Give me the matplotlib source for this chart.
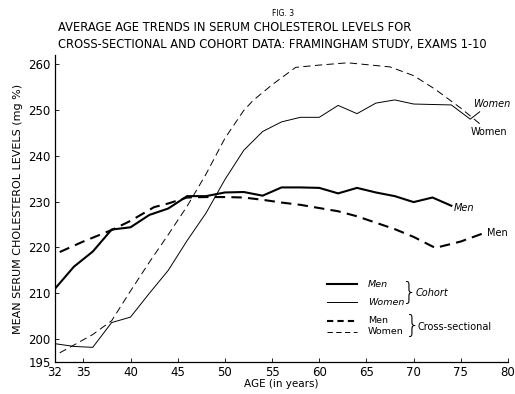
import matplotlib
matplotlib.use('Agg')
import matplotlib.pyplot as plt

# cohort data
cohort_men_age = [32, 34, 36, 38, 40, 42, 44, 46, 48, 50, 52, 54, 56, 58, 60, 62, 64, 66, 68, 70, 72, 74]
cohort_men = [211, 215.8, 219.1, 223.9, 224.4, 227.1, 228.5, 231.2, 231.2, 232, 232.1, 231.3, 233.1,
              233.1, 233, 231.8, 233, 232, 231.2, 229.9, 230.9, 229.1]

cohort_women_age = [32, 34, 36, 38, 40, 42, 44, 46, 48, 50, 52, 54, 56, 58, 60, 62, 64, 66, 68, 70,
                    72, 74, 76, 77]
cohort_women = [199, 198.4, 198.2, 203.6, 204.8, 210, 215, 221.5, 227.5, 234.8, 241.2, 245.3, 247.4,
                248.4, 248.4, 251, 249.2, 251.5, 252.2, 251.3, 251.2, 251.1, 248, 249.6]

# cross-sectional data
cross_men_age = [32.5, 35, 38, 40, 42.5, 44, 46, 48, 50, 52, 54, 56, 58, 60, 62, 64, 66, 68, 70,
                 72.3, 75, 77.4]
cross_men = [219, 221.3, 223.8, 225.8, 228.8, 229.6, 230.9, 231, 231, 230.9, 230.4, 229.8, 229.3,
             228.6, 227.9, 226.8, 225.4, 224, 222.3, 219.9, 221.3, 223.1]

cross_women_age = [32.5, 34, 36, 38, 40, 42, 44, 46, 48, 50, 52, 53, 55, 57.5, 60, 63, 65, 67.5,
                   70, 72.3, 75, 77.3]
cross_women = [197, 198.7, 201, 204, 210.5, 216.8, 222.8, 229, 236, 243.8, 249.9, 252.1, 255.5,
               259.3, 259.8, 260.3, 259.9, 259.4, 257.5, 254.5, 250.4, 246.5]

x_ticks = [32, 35, 40, 45, 50, 55, 60, 65, 70, 75, 80]
y_ticks = [195, 200, 210, 220, 230, 240, 250, 260]

fig = plt.figure(figsize=(5.15, 3.94), dpi=100)
ax = fig.add_axes([0.1068, 0.0812, 0.8796, 0.7792])

ax.plot(cohort_men_age, cohort_men, color='black', lw=1.5, solid_joinstyle='miter')
ax.plot(cohort_women_age, cohort_women, color='black', lw=0.7)
ax.plot(cross_men_age, cross_men, color='black', lw=1.5, dashes=(5, 3))
ax.plot(cross_women_age, cross_women, color='black', lw=0.7, dashes=(7.5, 4.5))

# line end labels
ax.text(cohort_women_age[-1] - 0.7, 251.3, 'Women', fontsize=7, style='italic', va='center', ha='left')
ax.text(cross_women_age[-1] - 1.3, 245.2, 'Women', fontsize=7, va='center', ha='left')
ax.text(cohort_men_age[-1] + 0.2, 228.7, 'Men', fontsize=7, style='italic', va='center', ha='left')
ax.text(cross_men_age[-1] + 0.4, 223.1, 'Men', fontsize=7, va='center', ha='left')

# hand made legend with braces
tr = ax.transAxes
ax.plot([0.600, 0.667], [0.254, 0.254], color='black', lw=1.5, transform=tr)
ax.plot([0.600, 0.667], [0.195, 0.195], color='black', lw=0.7, transform=tr)
ax.plot([0.600, 0.667], [0.134, 0.134], color='black', lw=1.5, dashes=(3, 2), transform=tr)
ax.plot([0.600, 0.667], [0.098, 0.098], color='black', lw=0.7, dashes=(5.5, 3.5), transform=tr)
ax.text(0.691, 0.254, 'Men', fontsize=6.8, style='italic', va='center', transform=tr)
ax.text(0.691, 0.195, 'Women', fontsize=6.8, style='italic', va='center', transform=tr)
ax.text(0.691, 0.134, 'Men', fontsize=6.8, va='center', transform=tr)
ax.text(0.691, 0.098, 'Women', fontsize=6.8, va='center', transform=tr)
ax.text(0.783, 0.225, '}', fontsize=17, va='center', ha='center', transform=tr, fontweight='light')
ax.text(0.797, 0.225, 'Cohort', fontsize=7, style='italic', va='center', transform=tr)
ax.text(0.789, 0.116, '}', fontsize=17, va='center', ha='center', transform=tr, fontweight='light')
ax.text(0.801, 0.114, 'Cross-sectional', fontsize=7, va='center', transform=tr)

ax.set_xlim(32, 80)
ax.set_ylim(195, 262)
ax.set_xticks(x_ticks)
ax.set_yticks(y_ticks)
ax.tick_params(direction='in', length=3, width=0.6, labelsize=8.5, pad=3)
ax.spines['top'].set_visible(False)
ax.spines['right'].set_visible(False)
ax.spines['left'].set_linewidth(0.9)
ax.spines['bottom'].set_linewidth(0.9)

ax.set_xlabel('AGE (in years)', fontsize=7.5, labelpad=0)
ax.set_ylabel('MEAN SERUM CHOLESTEROL LEVELS (mg %)', fontsize=8, labelpad=4)

fig.text(0.55, 0.965, 'FIG. 3', fontsize=5.5, ha='center', va='center')
fig.text(0.113, 0.93, 'AVERAGE AGE TRENDS IN SERUM CHOLESTEROL LEVELS FOR', fontsize=8.3,
         ha='left', va='center')
fig.text(0.113, 0.887, 'CROSS-SECTIONAL AND COHORT DATA: FRAMINGHAM STUDY, EXAMS 1-10', fontsize=8.3,
         ha='left', va='center')

fig.savefig('out.png', dpi=100)
plt.close(fig)
